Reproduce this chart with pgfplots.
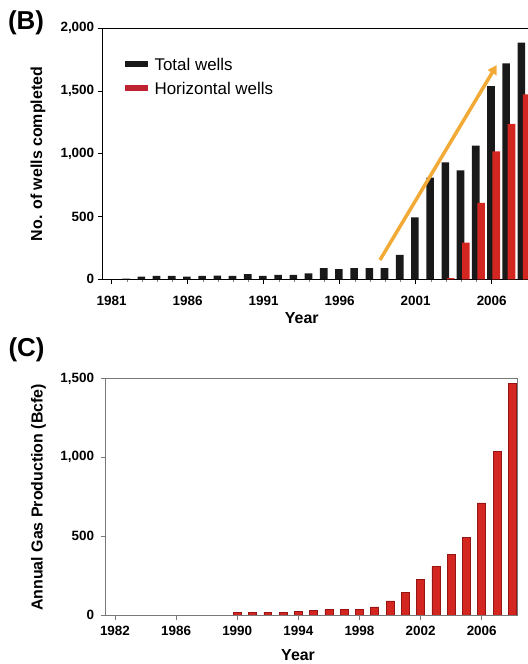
\documentclass[border=0pt]{standalone}
\usepackage{fontspec}
\setmainfont{Liberation Sans}
\usepackage{pgfplots}
\pgfplotsset{compat=1.18}
\usetikzlibrary{arrows.meta}
\definecolor{barred}{RGB}{212,38,32}
\definecolor{baredge}{RGB}{150,20,20}
\definecolor{legred}{RGB}{190,35,50}
\definecolor{arroworange}{RGB}{242,170,55}
\definecolor{axgray}{RGB}{120,120,120}

\pgfplotstableread{
year total
1981 0
1982 5
1983 21
1984 27
1985 27
1986 21
1987 27
1988 30
1989 27
1990 42
1991 27
1992 35
1993 35
1994 48
1995 88
1996 80
1997 88
1998 88
1999 88
2000 194
2001 494
2002 810
2003 932
2004 868
2005 1065
2006 1540
2007 1721
2008 1886
}\totalwells

\pgfplotstableread{
year horiz
2003 10
2004 292
2005 608
2006 1020
2007 1238
2008 1474
}\horizwells

\pgfplotstableread{
year gas
1990 17
1991 17
1992 19
1993 19
1994 21
1995 30
1996 34
1997 38
1998 38
1999 51
2000 89
2001 142
2002 225
2003 306
2004 386
2005 492
2006 711
2007 1040
2008 1468
}\gasprod

\begin{document}
\begin{tikzpicture}[x=1bp,y=1bp]
\useasboundingbox (0,0) rectangle (528,664);

\node[font=\bfseries\fontsize{26}{30}\selectfont] at (26,641) {(B)};
\node[font=\bfseries\fontsize{26}{30}\selectfont] at (26.5,314.5) {(C)};

% Panel B
\begin{axis}[
  at={(102.7bp,384.7bp)}, anchor=south west,
  scale only axis, width=434.6bp, height=251bp,
  xmin=1980.41, xmax=2009, ymin=0, ymax=2000,
  ybar,
  xtick={1981,1986,...,2006}, minor x tick num=4,
  ytick={0,500,1000,1500,2000},
  xtick pos=left, ytick pos=left,
  tick align=outside,
  major tick length=5bp, minor tick length=3bp,
  x tick style={black, line width=0.8bp},
  y tick style={black, line width=0.8bp},
  minor x tick style={gray, line width=0.6bp},
  axis line style={black, line width=0.9bp},
  /pgf/number format/assume math mode=true,
  tick label style={font=\bfseries\fontsize{13.5}{16}\selectfont},
  x tick label style={/pgf/number format/1000 sep={}, yshift=-8bp},
  scaled y ticks=false,
  xlabel={Year}, ylabel={No. of wells completed},
  x label style={font=\bfseries\fontsize{16}{19}\selectfont, at={(axis description cs:0.458,-0.154)}, anchor=center},
  y label style={font=\bfseries\fontsize{16}{19}\selectfont, at={(axis description cs:-0.1489,0.499)}, anchor=center, rotate=0},
  legend style={draw=none, fill=none, at={(rel axis cs:0.043,0.897)}, anchor=north west,
    font=\fontsize{17}{20}\selectfont, row sep=6.5bp,
    /tikz/every odd column/.append style={column sep=5bp}},
  legend cell align=left,
]
\addplot[fill=black!90, draw=none, bar width=0.5, bar shift=-0.05,
  legend image code/.code={\fill[black!90] (0bp,-1.5bp) rectangle (23bp,4bp);}]
  table[x=year, y=total] {\totalwells};
\addlegendentry{Total wells}
\addplot[fill=barred, draw=none, bar width=0.5, bar shift=0.3,
  legend image code/.code={\fill[legred] (0bp,-1.5bp) rectangle (23bp,4bp);}]
  table[x=year, y=horiz] {\horizwells};
\addlegendentry{Horizontal wells}
\draw[arroworange, line width=3.5bp, -{Triangle[length=9bp,width=10bp]}]
  (axis cs:1998.65,154) -- (axis cs:2006.33,1707);
\end{axis}

% Panel C
\begin{axis}[
  at={(105.5bp,49bp)}, anchor=south west,
  scale only axis, width=411.5bp, height=236.5bp,
  xmin=1981.38, xmax=2008.31, ymin=0, ymax=1500,
  ybar,
  xtick={1982,1986,...,2006}, minor x tick num=3,
  ytick={0,500,1000,1500},
  xtick pos=left, ytick pos=left,
  tick align=outside,
  major tick length=5bp, minor tick length=4bp,
  x tick style={axgray, line width=0.8bp},
  y tick style={axgray, line width=0.8bp},
  minor x tick style={axgray, line width=0.7bp},
  axis line style={axgray, line width=0.9bp},
  /pgf/number format/assume math mode=true,
  tick label style={font=\bfseries\fontsize{13.5}{16}\selectfont},
  x tick label style={/pgf/number format/1000 sep={}, yshift=-3bp},
  y tick label style={xshift=-3bp},
  scaled y ticks=false,
  xlabel={Year}, ylabel={Annual Gas Production (Bcfe)},
  x label style={font=\bfseries\fontsize{16}{19}\selectfont, at={(axis description cs:0.468,-0.169)}, anchor=center},
  y label style={font=\bfseries\fontsize{16}{19}\selectfont, at={(axis description cs:-0.1628,0.497)}, anchor=center},
]
\addplot[fill=barred, draw=baredge, line width=0.6bp, bar width=0.52, bar shift=0]
  table[x=year, y=gas] {\gasprod};
\end{axis}
\end{tikzpicture}
\end{document}
